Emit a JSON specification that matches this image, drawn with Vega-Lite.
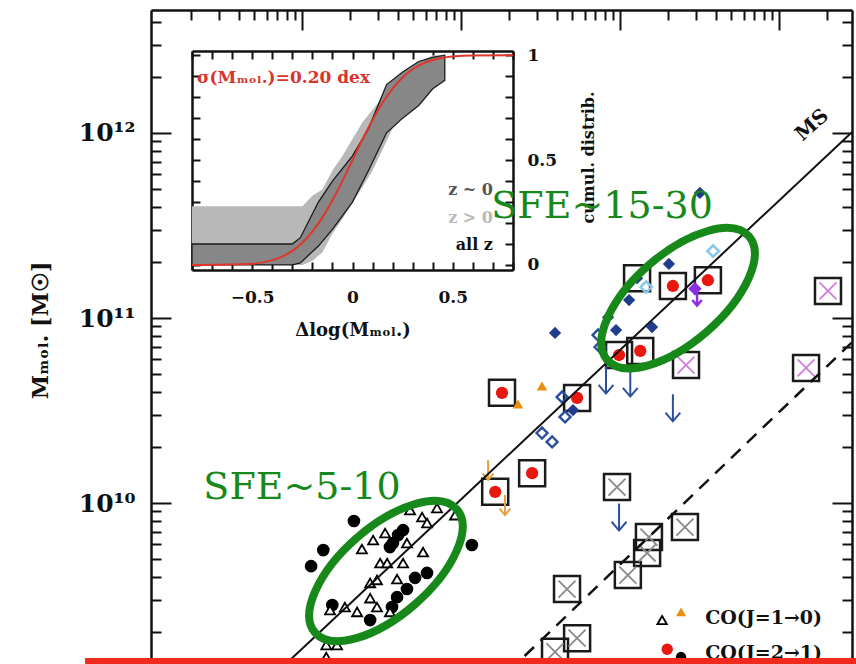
{
  "$schema": "https://vega.github.io/schema/vega-lite/v6.json",
  "width": 701,
  "height": 654,
  "autosize": {"type": "none"},
  "padding": {"left": 151, "top": 10, "right": 4, "bottom": 0},
  "background": "white",
  "config": {
    "view": {"stroke": null},
    "axis": {"labelFont": "DejaVu Serif", "titleFont": "DejaVu Serif", "labelFontWeight": "bold", "titleFontWeight": "bold", "domainColor": "#111", "tickColor": "#111", "labelColor": "#111", "titleColor": "#111", "grid": false, "labelOverlap": false, "labelFlush": false, "domainWidth": 2.5, "tickWidth": 2},
    "text": {"font": "DejaVu Serif"}
  },
  "datasets": {
    "pts": [
      {"sfr": 2.12, "mmol": 8.0e9, "type": "co21"},
      {"sfr": 1.36, "mmol": 5.57e9, "type": "co21"},
      {"sfr": 1.14, "mmol": 4.56e9, "type": "co21"},
      {"sfr": 4.32, "mmol": 7.14e9, "type": "co21"},
      {"sfr": 4.02, "mmol": 6.71e9, "type": "co21"},
      {"sfr": 3.73, "mmol": 6.08e9, "type": "co21"},
      {"sfr": 3.57, "mmol": 5.78e9, "type": "co21"},
      {"sfr": 11.7, "mmol": 5.93e9, "type": "co21"},
      {"sfr": 6.11, "mmol": 4.19e9, "type": "co21"},
      {"sfr": 5.14, "mmol": 3.94e9, "type": "co21"},
      {"sfr": 4.57, "mmol": 3.43e9, "type": "co21"},
      {"sfr": 3.96, "mmol": 3.10e9, "type": "co21"},
      {"sfr": 3.68, "mmol": 2.74e9, "type": "co21"},
      {"sfr": 2.68, "mmol": 2.33e9, "type": "co21"},
      {"sfr": 1.55, "mmol": 2.81e9, "type": "co21"},
      {"sfr": 7.06, "mmol": 9.4e9, "type": "co10"},
      {"sfr": 5.69, "mmol": 8.4e9, "type": "co10"},
      {"sfr": 6.11, "mmol": 7.8e9, "type": "co10"},
      {"sfr": 9.17, "mmol": 8.6e9, "type": "co10"},
      {"sfr": 3.33, "mmol": 6.88e9, "type": "co10"},
      {"sfr": 2.80, "mmol": 6.31e9, "type": "co10"},
      {"sfr": 4.57, "mmol": 6.08e9, "type": "co10"},
      {"sfr": 2.38, "mmol": 5.64e9, "type": "co10"},
      {"sfr": 5.77, "mmol": 5.43e9, "type": "co10"},
      {"sfr": 3.10, "mmol": 4.74e9, "type": "co10"},
      {"sfr": 3.43, "mmol": 4.74e9, "type": "co10"},
      {"sfr": 4.32, "mmol": 4.74e9, "type": "co10"},
      {"sfr": 3.96, "mmol": 3.88e9, "type": "co10"},
      {"sfr": 2.68, "mmol": 3.70e9, "type": "co10"},
      {"sfr": 2.96, "mmol": 3.84e9, "type": "co10"},
      {"sfr": 2.68, "mmol": 3.06e9, "type": "co10"},
      {"sfr": 2.96, "mmol": 2.74e9, "type": "co10"},
      {"sfr": 2.22, "mmol": 2.58e9, "type": "co10"},
      {"sfr": 1.86, "mmol": 2.74e9, "type": "co10"},
      {"sfr": 1.50, "mmol": 2.64e9, "type": "co10"},
      {"sfr": 3.57, "mmol": 2.58e9, "type": "co10"},
      {"sfr": 1.42, "mmol": 1.71e9, "type": "co10"},
      {"sfr": 1.66, "mmol": 1.71e9, "type": "co10"},
      {"sfr": 1.42, "mmol": 1.47e9, "type": "co10"},
      {"sfr": 4.78, "mmol": 9.17e9, "type": "co10"},
      {"sfr": 215, "mmol": 1.49e11, "type": "box_red"},
      {"sfr": 357, "mmol": 1.60e11, "type": "box_red"},
      {"sfr": 98.6, "mmol": 6.31e10, "type": "box_red"},
      {"sfr": 134, "mmol": 6.64e10, "type": "box_red"},
      {"sfr": 18.1, "mmol": 3.94e10, "type": "box_red"},
      {"sfr": 53.7, "mmol": 3.70e10, "type": "box_red"},
      {"sfr": 28.0, "mmol": 1.45e10, "type": "box_red"},
      {"sfr": 16.4, "mmol": 1.15e10, "type": "box_red"},
      {"sfr": 128, "mmol": 1.64e11, "type": "box_blue"},
      {"sfr": 95.7, "mmol": 1.22e10, "type": "box_x"},
      {"sfr": 256, "mmol": 7.41e9, "type": "box_x"},
      {"sfr": 152, "mmol": 6.55e9, "type": "box_x"},
      {"sfr": 148, "mmol": 5.37e9, "type": "box_x"},
      {"sfr": 112, "mmol": 4.08e9, "type": "box_x"},
      {"sfr": 46.4, "mmol": 3.43e9, "type": "box_x"},
      {"sfr": 53.7, "mmol": 1.86e9, "type": "box_x"},
      {"sfr": 39.0, "mmol": 1.57e9, "type": "box_x"},
      {"sfr": 260, "mmol": 5.57e10, "type": "box_xm"},
      {"sfr": 2032, "mmol": 1.40e11, "type": "box_xm"},
      {"sfr": 1479, "mmol": 5.37e10, "type": "box_xm"},
      {"sfr": 203, "mmol": 1.96e11, "type": "blue_fill"},
      {"sfr": 114, "mmol": 1.25e11, "type": "blue_fill"},
      {"sfr": 84.1, "mmol": 1.01e11, "type": "blue_fill"},
      {"sfr": 39.0, "mmol": 8.3e10, "type": "blue_fill"},
      {"sfr": 94.4, "mmol": 8.61e10, "type": "blue_fill"},
      {"sfr": 159, "mmol": 8.94e10, "type": "blue_fill"},
      {"sfr": 50.6, "mmol": 3.18e10, "type": "blue_fill"},
      {"sfr": 318, "mmol": 4.74e11, "type": "blue_fill"},
      {"sfr": 72.7, "mmol": 8.09e10, "type": "blue_open"},
      {"sfr": 74.8, "mmol": 6.97e10, "type": "blue_open"},
      {"sfr": 43.2, "mmol": 3.74e10, "type": "blue_open"},
      {"sfr": 45.1, "mmol": 2.92e10, "type": "blue_open"},
      {"sfr": 32.3, "mmol": 2.39e10, "type": "blue_open"},
      {"sfr": 37.4, "mmol": 2.14e10, "type": "blue_open"},
      {"sfr": 385, "mmol": 2.30e11, "type": "cyan_open"},
      {"sfr": 146, "mmol": 1.47e11, "type": "cyan_open"},
      {"sfr": 296, "mmol": 1.44e11, "type": "purple"},
      {"sfr": 305, "mmol": 1.30e11, "type": "purple_lim"},
      {"sfr": 81.6, "mmol": 4.62e10, "type": "blue_lim"},
      {"sfr": 116, "mmol": 4.45e10, "type": "blue_lim"},
      {"sfr": 215, "mmol": 3.27e10, "type": "blue_lim"},
      {"sfr": 98.6, "mmol": 8.4e9, "type": "blue_lim"},
      {"sfr": 32.3, "mmol": 4.29e10, "type": "orange_tri"},
      {"sfr": 22.8, "mmol": 3.43e10, "type": "orange_tri"},
      {"sfr": 18.9, "mmol": 9.75e9, "type": "orange_lim"},
      {"sfr": 14.8, "mmol": 1.51e10, "type": "orange_lim"}
    ],
    "zgt0": [
      {"dx": -0.8, "f": 0, "hi": 0.28},
      {"dx": -0.25, "f": 0, "hi": 0.28},
      {"dx": -0.2, "f": 0.02, "hi": 0.33},
      {"dx": -0.15, "f": 0.06, "hi": 0.36},
      {"dx": -0.1, "f": 0.15, "hi": 0.45},
      {"dx": -0.05, "f": 0.22, "hi": 0.52},
      {"dx": 0, "f": 0.3, "hi": 0.6},
      {"dx": 0.05, "f": 0.37, "hi": 0.68},
      {"dx": 0.1, "f": 0.45, "hi": 0.74},
      {"dx": 0.15, "f": 0.55, "hi": 0.8},
      {"dx": 0.2, "f": 0.65, "hi": 0.88},
      {"dx": 0.3, "f": 0.75, "hi": 0.95},
      {"dx": 0.4, "f": 0.85, "hi": 1.0},
      {"dx": 0.46, "f": 0.9, "hi": 1.0}
    ],
    "allz": [
      {"dx": -0.8, "f": 0, "hi": 0.1},
      {"dx": -0.3, "f": 0, "hi": 0.1},
      {"dx": -0.26, "f": 0.01, "hi": 0.13},
      {"dx": -0.17, "f": 0.09, "hi": 0.3},
      {"dx": -0.1, "f": 0.17, "hi": 0.4},
      {"dx": 0, "f": 0.3, "hi": 0.52},
      {"dx": 0.08, "f": 0.45, "hi": 0.65},
      {"dx": 0.17, "f": 0.63, "hi": 0.86},
      {"dx": 0.25, "f": 0.7, "hi": 0.92},
      {"dx": 0.33, "f": 0.76, "hi": 0.97},
      {"dx": 0.4, "f": 0.84, "hi": 0.99},
      {"dx": 0.46, "f": 0.88, "hi": 1.0}
    ],
    "cdf": [
      {"dx": -0.8, "f": 0.0},
      {"dx": -0.5, "f": 0.006},
      {"dx": -0.4, "f": 0.023},
      {"dx": -0.35, "f": 0.04},
      {"dx": -0.3, "f": 0.067},
      {"dx": -0.25, "f": 0.106},
      {"dx": -0.2, "f": 0.159},
      {"dx": -0.15, "f": 0.227},
      {"dx": -0.1, "f": 0.309},
      {"dx": -0.05, "f": 0.401},
      {"dx": 0, "f": 0.5},
      {"dx": 0.05, "f": 0.599},
      {"dx": 0.1, "f": 0.691},
      {"dx": 0.15, "f": 0.773},
      {"dx": 0.2, "f": 0.841},
      {"dx": 0.25, "f": 0.894},
      {"dx": 0.3, "f": 0.933},
      {"dx": 0.35, "f": 0.96},
      {"dx": 0.4, "f": 0.977},
      {"dx": 0.45, "f": 0.988},
      {"dx": 0.5, "f": 0.994},
      {"dx": 0.6, "f": 0.999},
      {"dx": 0.8, "f": 1.0}
    ]
  },
  "layer": [
    {
      "data": {"name": "pts"},
      "encoding": {
        "x": {"field": "sfr", "type": "quantitative", "scale": {"type": "log", "domain": [0.1122, 2877]}, "axis": null},
        "y": {"field": "mmol", "type": "quantitative", "scale": {"type": "log", "domain": [1.349e9, 4.62e12]},
          "axis": {"orient": "left", "values": [2e9,3e9,4e9,5e9,6e9,7e9,8e9,9e9,1e10,2e10,3e10,4e10,5e10,6e10,7e10,8e10,9e10,1e11,2e11,3e11,4e11,5e11,6e11,7e11,8e11,9e11,1e12,2e12,3e12,4e12],
            "labelExpr": "datum.value==1e10?'10¹⁰':datum.value==1e11?'10¹¹':datum.value==1e12?'10¹²':''",
            "tickSize": {"condition": {"test": "datum.value==1e10||datum.value==1e11||datum.value==1e12", "value": -20}, "value": -10},
            "labelFontSize": 25, "labelPadding": 36, "labelBaseline": "middle",
            "title": "Mₘₒₗ. [M☉]", "titleFontSize": 22, "titleX": -111, "titleY": 320, "titleAngle": 270, "titleAlign": "center", "titleBaseline": "middle"}}
      },
      "layer": [
        {"transform": [{"filter": "indexof(['box_red','box_blue','box_x','box_xm'], datum.type) >= 0"}],
          "mark": {"type": "point", "shape": "square", "filled": false, "stroke": "#1a1a1a", "strokeWidth": 2.5, "size": 676, "opacity": 1}},
        {"transform": [{"filter": "datum.type=='box_red'"}],
          "mark": {"type": "point", "shape": "circle", "filled": true, "fill": "#e8170f", "size": 150, "opacity": 1}},
        {"transform": [{"filter": "datum.type=='box_x'"}],
          "mark": {"type": "point", "shape": "M-1,-1L1,1M-1,1L1,-1", "filled": false, "stroke": "#8a8a8a", "strokeWidth": 1.8, "size": 289, "opacity": 1}},
        {"transform": [{"filter": "datum.type=='box_xm'"}],
          "mark": {"type": "point", "shape": "M-1,-1L1,1M-1,1L1,-1", "filled": false, "stroke": "#d27be0", "strokeWidth": 1.8, "size": 289, "opacity": 1}},
        {"transform": [{"filter": "datum.type=='blue_fill' || datum.type=='box_blue'"}],
          "mark": {"type": "point", "shape": "diamond", "filled": true, "fill": "#1f3d8c", "size": 150, "opacity": 1}},
        {"transform": [{"filter": "datum.type=='blue_open'"}],
          "mark": {"type": "point", "shape": "diamond", "filled": false, "stroke": "#2b4f9e", "strokeWidth": 2.4, "size": 120, "opacity": 1}},
        {"transform": [{"filter": "datum.type=='cyan_open'"}],
          "mark": {"type": "point", "shape": "diamond", "filled": false, "stroke": "#86c8ea", "strokeWidth": 2.6, "size": 130, "opacity": 1}},
        {"transform": [{"filter": "datum.type=='purple'"}],
          "mark": {"type": "point", "shape": "diamond", "filled": true, "fill": "#8b2fe0", "size": 180, "opacity": 1}},
        {"transform": [{"filter": "datum.type=='purple_lim'"}],
          "mark": {"type": "point", "shape": "M0,-1L0,1M-0.55,0.35L0,1L0.55,0.35", "filled": false, "stroke": "#8b2fe0", "strokeWidth": 2.5, "size": 300, "opacity": 1}},
        {"transform": [{"filter": "datum.type=='blue_lim'"}],
          "mark": {"type": "point", "shape": "M0,-1L0,1M-0.55,0.35L0,1L0.55,0.35", "filled": false, "stroke": "#2b4f9e", "strokeWidth": 2, "size": 729, "opacity": 1}},
        {"transform": [{"filter": "datum.type=='orange_tri'"}],
          "mark": {"type": "point", "shape": "triangle-up", "filled": true, "fill": "#e8900c", "size": 110, "opacity": 1}},
        {"transform": [{"filter": "datum.type=='orange_lim'"}],
          "mark": {"type": "point", "shape": "M0,-1L0,1M-0.55,0.35L0,1L0.55,0.35", "filled": false, "stroke": "#e8a040", "strokeWidth": 2, "size": 400, "opacity": 1}},
        {"transform": [{"filter": "datum.type=='co21'"}],
          "mark": {"type": "point", "shape": "circle", "filled": true, "fill": "#000", "size": 160, "opacity": 1}},
        {"transform": [{"filter": "datum.type=='co10'"}],
          "mark": {"type": "point", "shape": "triangle-up", "filled": true, "fill": "white", "stroke": "#000", "strokeWidth": 1.8, "size": 100, "opacity": 1}},
        {"data": {"values": [{"sfr": 184, "mmol": 2.33e9}]},
          "mark": {"type": "point", "shape": "triangle-up", "filled": true, "fill": "white", "stroke": "#000", "strokeWidth": 1.8, "size": 90, "opacity": 1}},
        {"data": {"values": [{"sfr": 242, "mmol": 2.58e9}]},
          "mark": {"type": "point", "shape": "triangle-up", "filled": true, "fill": "#e8900c", "size": 100, "opacity": 1}},
        {"data": {"values": [{"sfr": 198, "mmol": 1.62e9}]},
          "mark": {"type": "point", "shape": "circle", "filled": true, "fill": "#e8170f", "size": 130, "opacity": 1}},
        {"data": {"values": [{"sfr": 242, "mmol": 1.47e9}]},
          "mark": {"type": "point", "shape": "circle", "filled": true, "fill": "#000", "size": 110, "opacity": 1}},
        {"data": {"values": [{"sfr": 343, "mmol": 2.39e9, "label": "CO(J=1→0)"}, {"sfr": 343, "mmol": 1.55e9, "label": "CO(J=2→1)"}]},
          "mark": {"type": "text", "align": "left", "baseline": "middle", "fontSize": 19, "fontWeight": "bold", "font": "DejaVu Serif", "color": "#111"},
          "encoding": {"text": {"field": "label"}}}
      ]
    },
    {
      "encoding": {
        "x": {"field": "dx", "type": "quantitative", "scale": {"domain": [-0.8, 0.8], "range": [41, 362]},
          "axis": {"orient": "bottom", "offset": -394, "values": [-0.8,-0.7,-0.6,-0.5,-0.4,-0.3,-0.2,-0.1,0,0.1,0.2,0.3,0.4,0.5,0.6,0.7,0.8],
            "labelExpr": "datum.value==-0.5?'−0.5':datum.value==0?'0':datum.value==0.5?'0.5':''",
            "tickSize": -8, "labelPadding": 27, "labelFontSize": 17,
            "title": "Δlog(Mₘₒₗ.)", "titleFontSize": 18, "titlePadding": 16}},
        "y": {"field": "f", "type": "quantitative", "scale": {"domain": [-0.024, 1.02], "range": [260, 41]},
          "axis": {"orient": "right", "offset": -339, "values": [0,0.1,0.2,0.3,0.4,0.5,0.6,0.7,0.8,0.9,1],
            "labelExpr": "datum.value==0?'0':datum.value==0.5?'0.5':datum.value==1?'1':''",
            "tickSize": -8, "labelPadding": 22, "labelFontSize": 17,
            "title": "cumul. distrib.", "titleFontSize": 16, "titleAngle": 270, "titleX": 75, "titleY": 147, "titleAlign": "center", "titleBaseline": "middle"}}
      },
      "layer": [
        {"data": {"name": "zgt0"}, "mark": {"type": "area", "orient": "vertical", "fill": "#b8b8b8", "opacity": 1}, "encoding": {"y2": {"field": "hi"}}},
        {"data": {"name": "allz"}, "mark": {"type": "area", "orient": "vertical", "fill": "#858585", "opacity": 0.95, "stroke": "#111", "strokeWidth": 1.3}, "encoding": {"y2": {"field": "hi"}}},
        {"data": {"name": "cdf"}, "mark": {"type": "line", "color": "#e0352b", "strokeWidth": 2, "interpolate": "monotone"}}
      ]
    },
    {
      "data": {"values": [
        {"dx": -0.775, "f": 0.89, "label": "σ(Mₘₒₗ.)=0.20 dex", "grp": "sigma"},
        {"dx": 0.70, "f": 0.357, "label": "z ~ 0", "grp": "z0"},
        {"dx": 0.70, "f": 0.224, "label": "z > 0", "grp": "zgt"},
        {"dx": 0.70, "f": 0.095, "label": "all z", "grp": "all"}
      ]},
      "encoding": {
        "x": {"field": "dx", "type": "quantitative", "scale": {"domain": [-0.8, 0.8], "range": [41, 362]},
          "axis": {"orient": "top", "offset": -41, "values": [-0.8,-0.7,-0.6,-0.5,-0.4,-0.3,-0.2,-0.1,0,0.1,0.2,0.3,0.4,0.5,0.6,0.7,0.8], "labels": false, "tickSize": -8, "title": null}},
        "y": {"field": "f", "type": "quantitative", "scale": {"domain": [-0.024, 1.02], "range": [260, 41]},
          "axis": {"orient": "left", "offset": -41, "values": [0,0.1,0.2,0.3,0.4,0.5,0.6,0.7,0.8,0.9,1], "labels": false, "tickSize": -8, "title": null}},
        "text": {"field": "label"}
      },
      "layer": [
        {"transform": [{"filter": "datum.grp=='sigma'"}], "mark": {"type": "text", "align": "left", "baseline": "middle", "fontSize": 17, "fontWeight": "bold", "color": "#d9342b"}},
        {"transform": [{"filter": "datum.grp!='sigma'"}], "mark": {"type": "text", "align": "right", "baseline": "middle", "fontSize": 16, "fontWeight": "bold"},
          "encoding": {"color": {"field": "grp", "type": "nominal", "scale": {"domain": ["z0", "zgt", "all"], "range": ["#555555", "#b8b8b8", "#111111"]}, "legend": null}}}
      ]
    },
    {
      "encoding": {
        "x": {"field": "sfr", "type": "quantitative", "scale": {"type": "log", "domain": [0.1122, 2877]},
          "axis": {"orient": "top", "values": [0.2,0.3,0.4,0.5,0.6,0.7,0.8,0.9,1,2,3,4,5,6,7,8,9,10,20,30,40,50,60,70,80,90,100,200,300,400,500,600,700,800,900,1000,2000],
            "labels": false, "title": null,
            "tickSize": {"condition": {"test": "datum.value==1||datum.value==10||datum.value==100||datum.value==1000", "value": -20}, "value": -10}}},
        "y": {"field": "mmol", "type": "quantitative", "scale": {"type": "log", "domain": [1.349e9, 4.62e12]},
          "axis": {"orient": "right", "values": [2e9,3e9,4e9,5e9,6e9,7e9,8e9,9e9,1e10,2e10,3e10,4e10,5e10,6e10,7e10,8e10,9e10,1e11,2e11,3e11,4e11,5e11,6e11,7e11,8e11,9e11,1e12,2e12,3e12,4e12],
            "labels": false, "title": null,
            "tickSize": {"condition": {"test": "datum.value==1e10||datum.value==1e11||datum.value==1e12", "value": -20}, "value": -10}}}
      },
      "layer": [
        {"data": {"values": [{"sfr": 0.501, "mmol": 9.33e8}, {"sfr": 3981, "mmol": 1.315e12}]},
          "mark": {"type": "line", "color": "#111", "strokeWidth": 2, "clip": true}},
        {"data": {"values": [{"sfr": 15.85, "mmol": 1.02e9}, {"sfr": 3981, "mmol": 9.66e10}]},
          "mark": {"type": "line", "color": "#111", "strokeWidth": 2.5, "strokeDash": [13, 9], "clip": true}},
        {"data": {"values": [{"sfr": 1614, "mmol": 1.104e12, "label": "MS"}]},
          "mark": {"type": "text", "angle": 318, "fontSize": 20, "fontWeight": "bold", "align": "center", "baseline": "middle", "color": "#111"},
          "encoding": {"text": {"field": "label"}}},
        {"data": {"values": [{"sfr": 231.7, "mmol": 1.28e11}, {"sfr": 3.37, "mmol": 4.29e9}]},
          "mark": {"type": "point", "shape": "M-1,0A1,0.47,0,1,1,1,0A1,0.47,0,1,1,-1,0Z", "filled": false, "stroke": "#17891a", "strokeWidth": 8, "size": 35344, "angle": 319, "opacity": 1}},
        {"data": {"values": [{"sfr": 77.1, "mmol": 3.98e11, "label": "SFE~15-30"}, {"sfr": 1.0, "mmol": 1.205e10, "label": "SFE~5-10"}]},
          "mark": {"type": "text", "fontSize": 38, "font": "DejaVu Serif", "align": "center", "baseline": "middle", "color": "#17891a"},
          "encoding": {"text": {"field": "label"}}},
        {"data": {"values": [{"from": 0.0432, "to": 4000, "level": 1.40e9}]},
          "mark": {"type": "rule", "color": "#ee2b1c", "strokeWidth": 6, "clip": false},
          "encoding": {"x": {"field": "from", "type": "quantitative"}, "x2": {"field": "to"}, "y": {"field": "level", "type": "quantitative"}}}
      ]
    }
  ],
  "resolve": {"scale": {"x": "independent", "y": "independent"}, "axis": {"x": "independent", "y": "independent"}}
}
